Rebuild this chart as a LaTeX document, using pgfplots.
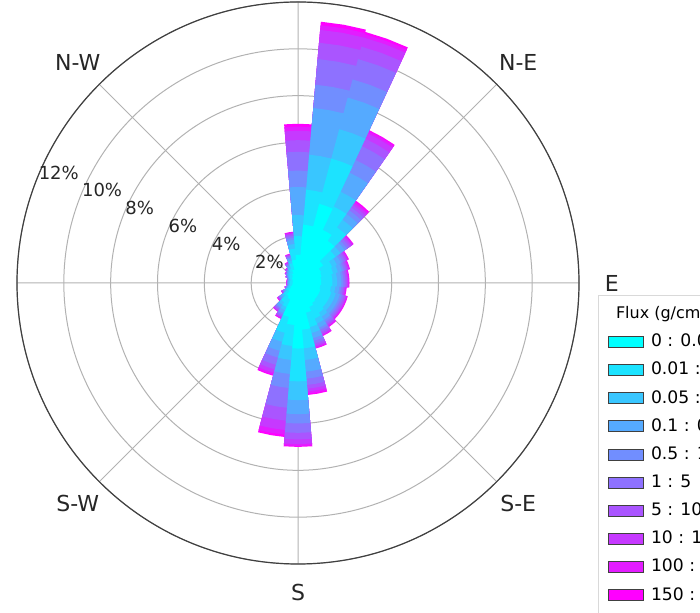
\documentclass[border=0pt]{standalone}
\usepackage{pgfplots}
\pgfplotsset{compat=1.18}
\usepackage{pgfplotstable}
\usepgfplotslibrary{polar}
\usepackage{fontspec}
\setmainfont{DejaVu Sans}

\definecolor{c1}{rgb}{0,1,1}
\definecolor{c2}{rgb}{0.111,0.889,1}
\definecolor{c3}{rgb}{0.222,0.778,1}
\definecolor{c4}{rgb}{0.333,0.667,1}
\definecolor{c5}{rgb}{0.444,0.556,1}
\definecolor{c6}{rgb}{0.556,0.444,1}
\definecolor{c7}{rgb}{0.667,0.333,1}
\definecolor{c8}{rgb}{0.778,0.222,1}
\definecolor{c9}{rgb}{0.889,0.111,1}
\definecolor{c10}{rgb}{1,0,1}

% frequency (%) per direction (compass degrees) and flux class
\pgfplotstableread{
d   b1   b2   b3   b4   b5   b6   b7   b8   b9   b10
0   1.2  0.8  0.9  1.2  0.7  0.8  0.5  0.4  0.18 0.12
10  2.5  1.5  1.5  2.0  1.0  1.1  0.7  0.55 0.2  0.15
20  3.5  2.0  1.3  1.4  0.8  0.9  0.55 0.4  0.15 0.1
30  2.5  1.1  0.7  0.9  0.6  0.65 0.35 0.25 0.1  0.05
40  2.2  0.7  0.4  0.3  0.2  0.15 0.12 0.1  0.07 0.06
50  1.31 0.64 0.26 0.23 0.12 0.12 0.09 0.06 0.05 0.02
60  1.08 0.53 0.22 0.19 0.10 0.10 0.07 0.05 0.04 0.02
70  1.04 0.51 0.21 0.18 0.09 0.09 0.07 0.05 0.04 0.02
80  0.99 0.48 0.20 0.18 0.09 0.09 0.07 0.04 0.04 0.02
90  0.99 0.48 0.20 0.18 0.09 0.09 0.07 0.04 0.04 0.02
100 0.95 0.46 0.19 0.17 0.08 0.08 0.06 0.04 0.04 0.02
110 0.99 0.48 0.20 0.18 0.09 0.09 0.07 0.04 0.04 0.02
120 0.99 0.48 0.20 0.18 0.09 0.09 0.07 0.04 0.04 0.02
130 0.99 0.48 0.20 0.18 0.09 0.09 0.07 0.04 0.04 0.02
140 1.04 0.51 0.21 0.18 0.09 0.09 0.07 0.05 0.04 0.02
150 1.13 0.55 0.23 0.20 0.10 0.10 0.08 0.05 0.04 0.02
160 1.31 0.64 0.26 0.23 0.12 0.12 0.09 0.06 0.05 0.02
170 2.0  0.8  0.5  0.5  0.3  0.27 0.16 0.12 0.09 0.06
180 2.8  1.4  0.8  0.6  0.4  0.4  0.28 0.2  0.08 0.04
190 1.8  0.9  0.6  0.6  0.6  0.85 0.55 0.4  0.2  0.1
200 1.5  0.7  0.4  0.4  0.3  0.32 0.2  0.15 0.08 0.05
210 0.77 0.37 0.15 0.14 0.07 0.07 0.05 0.03 0.03 0.02
220 0.68 0.33 0.14 0.12 0.06 0.06 0.05 0.03 0.02 0.01
230 0.50 0.24 0.10 0.09 0.04 0.04 0.03 0.02 0.02 0.02
240 0.36 0.18 0.07 0.06 0.03 0.03 0.03 0.02 0.01 0.01
250 0.27 0.13 0.05 0.05 0.03 0.03 0.02 0.01 0.01 0.00
260 0.23 0.11 0.05 0.04 0.02 0.02 0.01 0.01 0.01 0.00
270 0.23 0.11 0.05 0.04 0.02 0.02 0.01 0.01 0.01 0.00
280 0.23 0.11 0.05 0.04 0.02 0.02 0.01 0.01 0.01 0.00
290 0.23 0.11 0.05 0.04 0.02 0.02 0.01 0.01 0.01 0.00
300 0.27 0.13 0.05 0.05 0.03 0.03 0.02 0.01 0.01 0.00
310 0.32 0.15 0.06 0.06 0.03 0.03 0.02 0.01 0.01 0.01
320 0.36 0.18 0.07 0.06 0.03 0.03 0.03 0.02 0.01 0.01
330 0.45 0.22 0.09 0.08 0.04 0.04 0.03 0.02 0.02 0.01
340 0.59 0.29 0.12 0.10 0.05 0.05 0.04 0.03 0.02 0.01
350 0.99 0.48 0.20 0.18 0.09 0.09 0.07 0.04 0.04 0.02
}\rose
% stacked (cumulative) radii
\pgfplotstablecreatecol[copy=b1]{c1}\rose
\pgfplotstablecreatecol[expr={\thisrow{c1}+\thisrow{b2}}]{c2}\rose
\pgfplotstablecreatecol[expr={\thisrow{c2}+\thisrow{b3}}]{c3}\rose
\pgfplotstablecreatecol[expr={\thisrow{c3}+\thisrow{b4}}]{c4}\rose
\pgfplotstablecreatecol[expr={\thisrow{c4}+\thisrow{b5}}]{c5}\rose
\pgfplotstablecreatecol[expr={\thisrow{c5}+\thisrow{b6}}]{c6}\rose
\pgfplotstablecreatecol[expr={\thisrow{c6}+\thisrow{b7}}]{c7}\rose
\pgfplotstablecreatecol[expr={\thisrow{c7}+\thisrow{b8}}]{c8}\rose
\pgfplotstablecreatecol[expr={\thisrow{c8}+\thisrow{b9}}]{c9}\rose
\pgfplotstablecreatecol[expr={\thisrow{c9}+\thisrow{b10}}]{c10}\rose

\pgfplotsset{fluxleg/.style={legend image code/.code={%
  \path[draw=none,fill=none] (0pt,0pt) rectangle (19.5pt,0.1pt);
  \draw[##1,draw=black!75,line width=0.5pt] (0pt,-2.75pt) rectangle (17.5pt,2.75pt);}}}

\begin{document}
\begin{tikzpicture}
\path[use as bounding box] (0,0) rectangle (350pt,306.5pt);
\clip (0,0) rectangle (350pt,306.5pt);
\begin{polaraxis}[
  at={(149pt,165pt)}, anchor=center,
  scale only axis, width=281pt, height=281pt,
  ymin=0, ymax=12,
  ytick={2,4,6,8,10,12}, yticklabels={},
  xtick={0,45,...,315}, xticklabels={},
  major tick length=0pt,
  grid=major,
  major grid style={draw=black!30, line width=0.5pt},
  axis line style={draw=black!75, line width=0.6pt},
  y axis line style={draw=none},
  clip=false,
  legend cell align=left,
  legend style={at={(1.034,0.479)}, anchor=north west, draw=black!15,
    font=\fontsize{8.6}{10}\selectfont, row sep=2.2pt, inner xsep=4.5pt, inner ysep=3pt},
]
\pgfplotsinvokeforeach{10,9,8,7,6,5,4,3,2,1}{%
  \gdef\coords{}%
  \pgfplotsforeachungrouped \i in {0,...,35}{%
    \pgfplotstablegetelem{\i}{d}\of\rose \let\dd\pgfplotsretval
    \pgfplotstablegetelem{\i}{c#1}\of\rose \let\rr\pgfplotsretval
    \pgfmathsetmacro\aa{95-\dd}%
    \pgfmathsetmacro\ab{90-\dd}%
    \pgfmathsetmacro\ac{85-\dd}%
    \xdef\coords{\coords (\aa,\rr) (\ab,\rr) (\ac,\rr)}%
  }%
  \edef\cmd{\noexpand\addplot[fill=c#1, draw=none, forget plot] coordinates {\coords} --cycle;}%
  \cmd
}
\addlegendimage{empty legend}
\addlegendentry{\hspace*{-17.5pt}{\fontsize{8}{9}\selectfont Flux (g/cm$^{2}$/s)}\rule[-5pt]{0pt}{1pt}}
\addlegendimage{fluxleg, fill=c1}\addlegendentry{0 : 0.01}
\addlegendimage{fluxleg, fill=c2}\addlegendentry{0.01 : 0.05}
\addlegendimage{fluxleg, fill=c3}\addlegendentry{0.05 : 0.1}
\addlegendimage{fluxleg, fill=c4}\addlegendentry{0.1 : 0.5}
\addlegendimage{fluxleg, fill=c5}\addlegendentry{0.5 : 1}
\addlegendimage{fluxleg, fill=c6}\addlegendentry{1 : 5}
\addlegendimage{fluxleg, fill=c7}\addlegendentry{5 : 10}
\addlegendimage{fluxleg, fill=c8}\addlegendentry{10 : 100}
\addlegendimage{fluxleg, fill=c9}\addlegendentry{100 : 150}
\addlegendimage{fluxleg, fill=c10}\addlegendentry{150 : inf}
% compass labels
\begin{scope}[every node/.style={font=\fontsize{11}{13}\selectfont, text=black!85}]
\node at (axis cs:45,13.3) {N-E};
\node at (axis cs:0,13.4) {E};
\node at (axis cs:315,13.3) {S-E};
\node at (axis cs:270,13.2) {S};
\node at (axis cs:225,13.3) {S-W};
\node at (axis cs:180,13.3) {W};
\node at (axis cs:135,13.3) {N-W};
\end{scope}
% radial tick labels
\begin{scope}[every node/.style={font=\fontsize{9}{11}\selectfont, text=black!85, anchor=west, inner sep=0pt, yshift=1.5pt}]
\node at (axis cs:157.5,2) {2\%};
\node at (axis cs:157.5,4) {4\%};
\node at (axis cs:157.5,6) {6\%};
\node at (axis cs:157.5,8) {8\%};
\node at (axis cs:157.5,10) {10\%};
\node at (axis cs:157.5,12) {12\%};
\end{scope}
\end{polaraxis}
\end{tikzpicture}
\end{document}
